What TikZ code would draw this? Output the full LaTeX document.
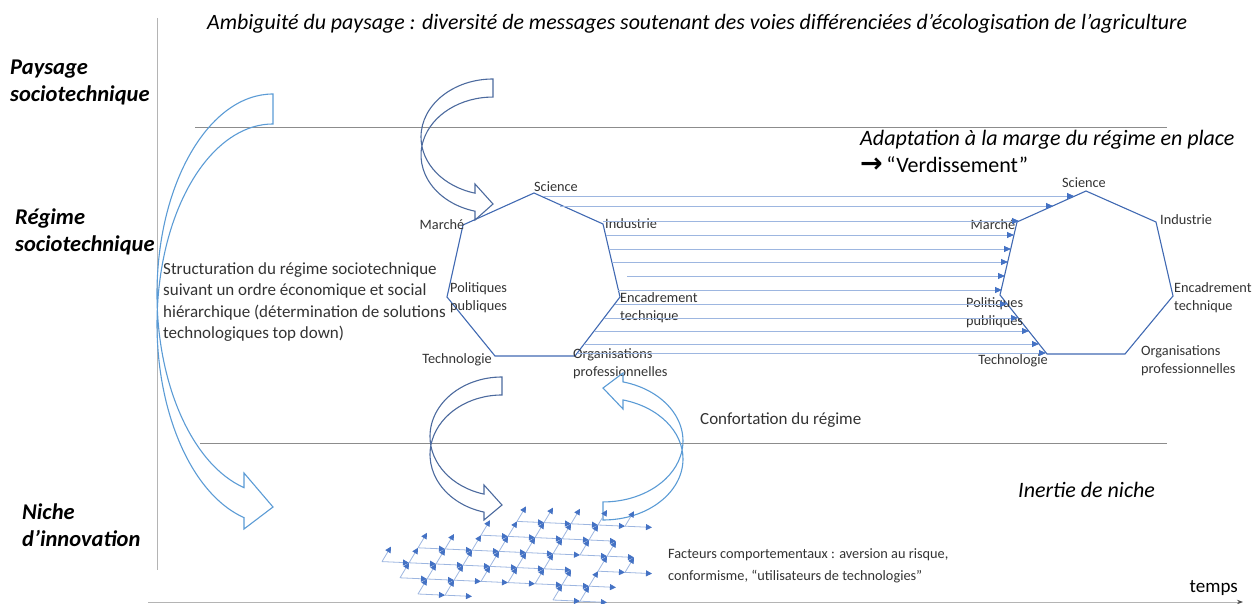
\documentclass[tikz,border=0pt]{standalone}
\usepackage{fontspec}
\setmainfont{Carlito}
\newfontfamily\arrowfont{DejaVu Sans}
\usetikzlibrary{arrows.meta}

\definecolor{linegray}{HTML}{8C8C8C}
\definecolor{axisgray}{HTML}{B4B4B4}
\definecolor{txtgray}{HTML}{333333}
\definecolor{paleblue}{HTML}{5B9BD5}
\definecolor{slateblue}{HTML}{4C6A9E}
\definecolor{heptblue}{HTML}{4069B2}
\definecolor{flowblue}{HTML}{9DB6E0}
\definecolor{tipblue}{HTML}{4472C4}

\begin{document}
\begin{tikzpicture}[x=1pt,y=-1pt,
  lvl/.style={font=\fontsize{22.5}{27}\selectfont\bfseries\itshape, align=left, anchor=west, inner sep=0pt},
  pole/.style={font=\fontsize{14.3}{18}\selectfont, text=txtgray, inner sep=0pt},
  note/.style={font=\fontsize{17}{21.5}\selectfont, text=txtgray, align=left, anchor=west, inner sep=0pt},
  big/.style={font=\fontsize{22}{25}\selectfont, align=left, anchor=west, inner sep=0pt},
  sep/.style={draw=linegray, line width=0.9pt},
  hept/.style={draw=heptblue, line width=1.1pt, line join=miter},
  flow/.style={draw=flowblue, line width=0.8pt, -{Triangle[length=7pt,width=6pt,color=tipblue]}},
  net/.style={draw=flowblue, line width=0.8pt, -{Triangle[length=6pt,width=6pt,color=tipblue]}},
  bentarrow/.style={line width=1.1pt, line join=miter}
]
\useasboundingbox (0,0) rectangle (1254,604);

% axes and level separators
\draw[axisgray, line width=1pt] (157,18) -- (157,570);
\draw[axisgray, line width=1pt, -{Stealth[length=6pt,color=black!70]}] (148,602) -- (1243,602);
\draw[sep] (195,127) -- (1167,127);
\draw[sep] (200,443) -- (1167,443);

% level labels
\node[lvl] (paysage) at (10,82) {Paysage\\sociotechnique};
\node[lvl] (regime) at (15,232) {Régime\\sociotechnique};
\node[lvl] (niche) at (22,525) {Niche\\d’innovation};

\node[font=\fontsize{21.9}{24}\selectfont\itshape, anchor=west, inner sep=0pt] (titre) at (207,24)
  {Ambiguité du paysage : diversité de messages soutenant des voies différenciées d’écologisation de l’agriculture};
\node[big, font=\fontsize{22}{25}\selectfont\itshape] (adapt) at (860,140) {Adaptation à la marge du régime en place};
\node[big] (verd) at (860,165) {{\arrowfont\bfseries\fontsize{27}{27}\selectfont →}\,“Verdissement”};
\node[big, font=\fontsize{22}{25}\selectfont\itshape] (inertie) at (1018,490) {Inertie de niche};
\node[note] (struct) at (163,302) {Structuration du régime sociotechnique\\suivant un ordre économique et social\\hiérarchique (détermination de solutions\\technologiques top down)};
\node[note] (confort) at (700,420) {Confortation du régime};
\node[note, font=\fontsize{14.3}{22}\selectfont] (facteurs) at (668,566) {Facteurs comportementaux : aversion au risque,\\conformisme, “utilisateurs de technologies”};
\node[anchor=east, inner sep=0pt, font=\fontsize{19}{22}\selectfont] (temps) at (1238,588) {temps};

% regime in place
\coordinate (LSci) at (534,193);
\coordinate (LInd) at (603,224);
\coordinate (LEnc) at (620,297);
\coordinate (LOrg) at (575,356);
\coordinate (LTec) at (495,356);
\coordinate (LPol) at (447,297);
\coordinate (LMar) at (463,225);
\draw[hept] (LSci) -- (LInd) -- (LEnc) -- (LOrg) -- (LTec) -- (LPol) -- (LMar) -- cycle;

% greened regime
\coordinate (RSci) at (1086,191);
\coordinate (RInd) at (1156,222);
\coordinate (REnc) at (1173,296);
\coordinate (ROrg) at (1125,354);
\coordinate (RTec) at (1047,354);
\coordinate (RPol) at (1000,295);
\coordinate (RMar) at (1017,222);
\draw[hept] (RSci) -- (RInd) -- (REnc) -- (ROrg) -- (RTec) -- (RPol) -- (RMar) -- cycle;

\node[pole] (lsci) at (556,187) {Science};
\node[pole] (lmar) at (442,225) {Marché};
\node[pole, anchor=west] (lind) at (605,224) {Industrie};
\node[pole, anchor=west, align=left] (lpol) at (450,298) {Politiques\\publiques};
\node[pole, anchor=west, align=left] (lenc) at (620,308) {Encadrement\\technique};
\node[pole] (ltec) at (457,360) {Technologie};
\node[pole, anchor=west, align=left] (lorg) at (573,364) {Organisations\\professionnelles};

\node[pole] (rsci) at (1084,183) {Science};
\node[pole] (rmar) at (993,225) {Marché};
\node[pole, anchor=west] (rind) at (1160,220) {Industrie};
\node[pole, anchor=west, align=left] (renc) at (1174,298) {Encadrement\\technique};
\node[pole, anchor=west, align=left] (rpol) at (966,313) {Politiques\\publiques};
\node[pole] (rtec) at (1013,361) {Technologie};
\node[pole, anchor=west, align=left] (rorg) at (1141,361) {Organisations\\professionnelles};

% marginal adaptation
\foreach \y/\xa/\xb in {196/543/1074, 206/560/1053, 221/603/1019, 235/606/1014, 249/609/1011,
  262/612/1008, 276/627/1005, 290/618/1002, 304/615/1007, 318/604/1018, 331/594/1029,
  344/584/1039, 353/577/1046}
  \draw[flow] (\xa,\y) -- (\xb,\y);

% landscape -> regime -> niche
\draw[bentarrow, paleblue] (273,94) arc[start angle=270, end angle=104.5, x radius=116, y radius=200]
  -- (244,473) -- (273,507) -- (244,529) -- (244,517.6)
  arc[start angle=104.5, end angle=270, x radius=116, y radius=200] -- cycle;
\draw[bentarrow, slateblue] (493,79) arc[start angle=270, end angle=104.5, x radius=72, y radius=58]
  -- (475,184) -- (493,204) -- (475,220) -- (475,211.2)
  arc[start angle=104.5, end angle=270, x radius=72, y radius=58] -- cycle;
\draw[bentarrow, slateblue] (502,377) arc[start angle=270, end angle=104.5, x radius=72, y radius=59.5]
  -- (484,485) -- (502,505) -- (484,520) -- (484,512.1)
  arc[start angle=104.5, end angle=270, x radius=72, y radius=59.5] -- cycle;
\draw[bentarrow, paleblue] (603,520) arc[start angle=90, end angle=-75.5, x radius=80, y radius=61]
  -- (623,409) -- (603,388) -- (623,373) -- (623,381.9)
  arc[start angle=-75.5, end angle=90, x radius=80, y radius=61] -- cycle;

% niche network
\foreach \j/\ia/\ib in {0/0/1, 0/5/6, 1/-1/3, 1/4/6, 2/-2/4, 2/6/7, 3/-1/6, 4/1/5, 5/2/6}
  \foreach \i in {\ia,...,\ib}
  {
    \coordinate (n) at ({418+27*\i+9*\j},{594+1.2*\i-15*\j});
    \draw[net] (n) -- ++(27,1.2);
    \draw[net] (n) -- ++(9,-15);
  }

\end{tikzpicture}
\end{document}
